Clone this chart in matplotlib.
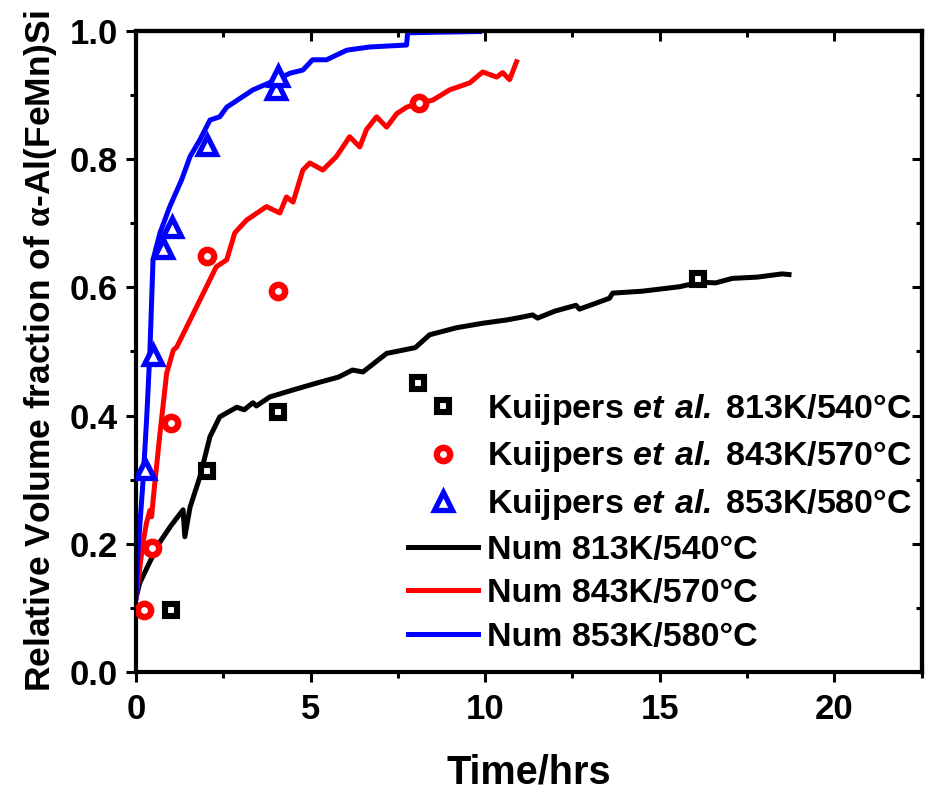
import numpy as np
import matplotlib
matplotlib.use('Agg')
import matplotlib.pyplot as plt
from matplotlib.lines import Line2D

plt.rcParams['font.family'] = ['Liberation Sans', 'DejaVu Sans']
plt.rcParams['font.weight'] = 'bold'
plt.rcParams['mathtext.fontset'] = 'custom'
plt.rcParams['mathtext.rm'] = 'Liberation Serif'
plt.rcParams['mathtext.bfit'] = 'Liberation Sans:italic:bold'

# experimental points (Kuijpers et al.)
exp813_t = [1.0, 2.03, 4.06, 8.07, 16.1]
exp813_f = [0.097, 0.314, 0.406, 0.451, 0.613]
exp843_t = [0.23, 0.46, 1.0, 2.03, 4.06, 8.1]
exp843_f = [0.097, 0.193, 0.388, 0.649, 0.594, 0.888]
exp853_t = [0.26, 0.49, 0.77, 1.03, 2.03, 4.0, 4.06]
exp853_f = [0.317, 0.495, 0.661, 0.694, 0.822, 0.91, 0.93]

# numerical curves
num813_t = [0.0, 0.11, 0.4, 0.69, 1.0, 1.35, 1.40, 1.55, 1.83, 2.12, 2.4, 2.89, 3.1, 3.35, 3.45,
            3.83, 4.5, 5.26, 5.8, 6.2, 6.5, 7.18, 7.64, 8.0, 8.41, 9.18, 9.93, 10.6, 11.0, 11.36,
            11.5, 12.0, 12.6, 12.7, 13.56, 13.65, 14.5, 15.57, 16.14, 16.6, 17.08, 17.8, 18.5, 18.7]
num813_f = [0.115, 0.139, 0.172, 0.203, 0.228, 0.253, 0.211, 0.257, 0.304, 0.367, 0.398, 0.413,
            0.409, 0.420, 0.415, 0.429, 0.440, 0.452, 0.460, 0.471, 0.468, 0.497, 0.502, 0.506,
            0.526, 0.537, 0.544, 0.549, 0.553, 0.557, 0.552, 0.563, 0.572, 0.566, 0.583, 0.591,
            0.594, 0.601, 0.608, 0.607, 0.614, 0.616, 0.621, 0.620]

num843_t = [0.0, 0.2, 0.3, 0.4, 0.45, 0.5, 0.69, 0.88, 1.07, 1.17, 1.55, 1.83, 2.3, 2.6, 2.83,
            3.17, 3.74, 4.12, 4.31, 4.5, 4.78, 4.98, 5.35, 5.74, 6.12, 6.41, 6.6, 6.89, 7.18,
            7.47, 7.75, 8.13, 8.5, 8.98, 9.56, 9.93, 10.33, 10.5, 10.7, 10.9]
num843_f = [0.115, 0.201, 0.232, 0.252, 0.242, 0.273, 0.373, 0.466, 0.502, 0.507, 0.549, 0.580,
            0.632, 0.643, 0.685, 0.705, 0.726, 0.716, 0.741, 0.733, 0.783, 0.794, 0.783, 0.804,
            0.835, 0.819, 0.846, 0.866, 0.850, 0.871, 0.881, 0.888, 0.892, 0.908, 0.919, 0.936,
            0.928, 0.935, 0.924, 0.952]

num853_t = [0.0, 0.06, 0.2, 0.31, 0.4, 0.49, 0.69, 0.97, 1.31, 1.55, 1.83, 2.12, 2.4, 2.6, 3.35,
            4.03, 4.41, 4.78, 5.06, 5.46, 6.04, 6.7, 7.75, 7.78, 8.6, 9.84]
num853_f = [0.115, 0.19, 0.295, 0.398, 0.50, 0.643, 0.685, 0.726, 0.768, 0.804, 0.830, 0.861,
            0.866, 0.881, 0.908, 0.924, 0.934, 0.939, 0.955, 0.955, 0.970, 0.975, 0.978, 0.997,
            0.998, 0.999]

fig = plt.figure(figsize=(9.31, 7.93), dpi=100)
ax = fig.add_axes([0.146, 0.1526, 0.844, 0.8084])

ax.plot(num813_t, num813_f, 'k-', lw=3.6, zorder=2)
ax.plot(num843_t, num843_f, 'r-', lw=3.6, zorder=2)
ax.plot(num853_t, num853_f, 'b-', lw=3.6, zorder=2)

sq = dict(marker='s', color='k', linestyle='none', markersize=8.6, markeredgewidth=4.4,
          markerfacecolor='white', zorder=3)
ci = dict(marker='o', color='r', linestyle='none', markersize=9.6, markeredgewidth=4.6,
          markerfacecolor='white', zorder=3)
tr = dict(marker='^', color='b', linestyle='none', markersize=13, markeredgewidth=3.8,
          markerfacecolor='white', zorder=3)
ax.plot(exp813_t, exp813_f, **sq)
ax.plot(exp843_t, exp843_f, **ci)
ax.plot(exp853_t, exp853_f, **tr)

ax.set_xlim(0, 22.5)
ax.set_ylim(0, 1.0)
ax.set_xticks([0, 5, 10, 15, 20])
ax.set_xticks(np.arange(0, 22.6, 2.5), minor=True)
ax.set_yticks(np.arange(0, 1.01, 0.2))
ax.set_yticks(np.arange(0, 1.01, 0.1), minor=True)
ax.set_yticklabels(['0.0', '0.2', '0.4', '0.6', '0.8', '1.0'])

for s in ax.spines.values():
    s.set_linewidth(3)
ax.tick_params(which='both', width=2.2, labelsize=25)
ax.tick_params(which='major', length=7)
ax.tick_params(which='minor', length=4.5)
ax.tick_params(axis='both', which='both', direction='out', top=False, right=False)
ax.tick_params(axis='x', which='major', pad=8)
ax.tick_params(axis='y', which='major', pad=6)
ax2 = ax.secondary_xaxis('top')
ax2.set_xticks([0, 5, 10, 15, 20])
ax2.set_xticks(np.arange(0, 22.6, 2.5), minor=True)
ax2.tick_params(which='both', direction='in', labeltop=False, width=2.2)
ax2.tick_params(which='major', length=7)
ax2.tick_params(which='minor', length=4.5)
ay2 = ax.secondary_yaxis('right')
ay2.set_yticks(np.arange(0, 1.01, 0.2))
ay2.set_yticks(np.arange(0, 1.01, 0.1), minor=True)
ay2.tick_params(which='both', direction='in', labelright=False, width=2.2)
ay2.tick_params(which='major', length=7)
ay2.tick_params(which='minor', length=4.5)
for sa in (ax2, ay2):
    for s in sa.spines.values():
        s.set_linewidth(3)

ax.set_xlabel('Time/hrs', fontsize=28.5, fontweight='bold', labelpad=20)
ax.set_ylabel(r'Relative Volume fraction of $\mathrm{\alpha}$-Al(FeMn)Si', fontsize=25.5,
              fontweight='bold', labelpad=8)

handles = [
    Line2D([], [], **sq),
    Line2D([], [], **ci),
    Line2D([], [], **tr),
    Line2D([], [], color='k', lw=3.6),
    Line2D([], [], color='r', lw=3.6),
    Line2D([], [], color='b', lw=3.6),
]
labels = [
    r'Kuijpers $\mathbfit{et\ al.}\,$813K/540°C',
    r'Kuijpers $\mathbfit{et\ al.}\,$843K/570°C',
    r'Kuijpers $\mathbfit{et\ al.}\,$853K/580°C',
    'Num 813K/540°C',
    'Num 843K/570°C',
    'Num 853K/580°C',
]
ax.legend(handles, labels, loc='upper left', bbox_to_anchor=(0.346, 0.437), frameon=False,
          handlelength=2.06, handletextpad=0.26, labelspacing=0.37,
          borderpad=0, borderaxespad=0, prop={'weight': 'bold', 'size': 24.5})

plt.savefig('out.png', dpi=100)
